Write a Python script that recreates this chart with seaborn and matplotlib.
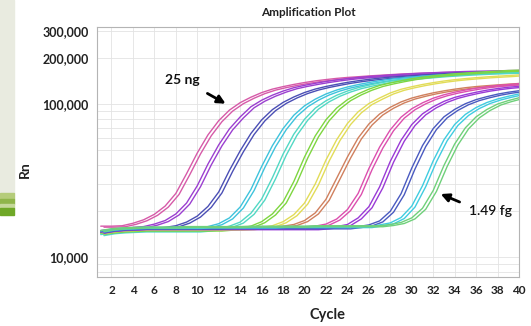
import numpy as np
import pandas as pd
import matplotlib
matplotlib.use("Agg")
import matplotlib.pyplot as plt
import seaborn as sns
from matplotlib.patches import Rectangle
from matplotlib.ticker import LogLocator, NullFormatter

# qPCR amplification curves, 4-fold dilution series (25 ng -> 1.49 fg)
# Rn values in thousands for cycles 1..40
cycles = np.arange(1, 41)

samples = ["25 ng", "6.25 ng", "1.56 ng", "391 pg", "97.7 pg", "24.4 pg", "6.10 pg",
           "1.53 pg", "381 fg", "95.4 fg", "23.8 fg", "5.96 fg", "1.49 fg"]

rn_25ng = [15.9, 15.9, 16.0, 16.6, 17.5, 19.0, 21.5, 26.0, 35.0, 47.8,
           62.8, 77.7, 91.1, 101.9, 110.6, 118.5, 124.9, 129.7, 134.0, 137.9,
           141.4, 144.2, 146.8, 148.9, 150.5, 152.3, 153.8, 155.3, 156.7, 157.9,
           158.8, 159.5, 160.4, 161.0, 161.6, 162.1, 162.6, 163.0, 163.3, 163.6]
rn_6ng = [14.9, 15.1, 15.3, 15.6, 15.8, 16.4, 17.3, 19.1, 22.5, 29.2,
          40.5, 54.0, 68.7, 82.2, 95.8, 105.7, 114.0, 121.3, 127.6, 132.2,
          136.3, 140.1, 143.5, 146.4, 148.9, 151.0, 152.7, 154.5, 155.9, 157.4,
          158.8, 159.9, 161.0, 161.9, 162.8, 163.4, 163.9, 164.5, 165.1, 165.4]
rn_1ng = [14.4, 14.8, 15.0, 15.1, 15.3, 15.4, 15.6, 16.0, 16.9, 18.5,
          21.4, 26.6, 36.8, 49.4, 64.1, 78.6, 91.7, 102.3, 111.0, 118.7,
          125.0, 130.0, 134.2, 138.3, 141.7, 144.7, 147.3, 149.6, 151.2, 152.9,
          154.6, 156.0, 157.5, 158.7, 159.6, 160.5, 161.4, 162.2, 162.6, 163.2]
rn_391pg = [14.2, 14.6, 14.8, 14.9, 15.0, 15.0, 15.0, 15.0, 15.2, 15.4,
            15.8, 16.5, 18.0, 21.2, 27.6, 39.0, 53.3, 69.0, 84.3, 97.2,
            107.4, 116.1, 123.2, 129.0, 133.7, 138.0, 141.6, 145.0, 147.5, 149.8,
            151.8, 153.6, 155.1, 156.7, 158.0, 159.4, 160.3, 161.2, 162.0, 162.7]
rn_98pg = [14.0, 14.4, 14.6, 14.7, 14.8, 14.8, 14.8, 14.8, 14.8, 14.8,
           15.0, 15.3, 15.9, 16.9, 19.3, 23.9, 32.9, 47.0, 63.4, 79.4,
           93.8, 104.8, 113.9, 121.4, 127.7, 132.6, 137.0, 140.9, 144.1, 146.9,
           148.9, 151.0, 153.0, 154.5, 156.1, 157.5, 158.6, 159.5, 160.5, 161.1]
rn_24pg = [14.3, 14.6, 14.8, 14.9, 15.0, 15.0, 15.0, 15.0, 15.0, 15.0,
           15.0, 15.0, 15.2, 15.4, 15.9, 17.0, 19.1, 22.9, 31.1, 45.0,
           61.8, 78.8, 94.0, 106.6, 116.3, 124.8, 131.9, 137.1, 141.7, 146.0,
           149.5, 152.6, 155.0, 157.2, 159.1, 160.8, 162.4, 163.8, 165.3, 166.2]
rn_6pg = [14.4, 14.8, 15.0, 15.1, 15.2, 15.2, 15.2, 15.2, 15.2, 15.2,
          15.2, 15.2, 15.2, 15.2, 15.3, 15.6, 16.0, 17.0, 18.9, 22.5,
          30.0, 43.0, 58.4, 74.5, 88.8, 100.6, 109.3, 117.9, 124.6, 129.5,
          133.9, 137.7, 141.1, 144.0, 146.3, 148.3, 150.2, 151.7, 153.1, 154.8]
rn_1pg = [14.6, 15.0, 15.2, 15.3, 15.4, 15.4, 15.4, 15.4, 15.4, 15.4,
          15.5, 15.5, 15.5, 15.5, 15.5, 15.5, 15.6, 15.9, 16.3, 17.3,
          19.4, 23.8, 32.7, 45.0, 59.9, 73.9, 85.9, 95.1, 103.0, 109.2,
          113.9, 118.1, 121.7, 124.8, 127.6, 129.8, 131.5, 133.1, 134.6, 136.0]
rn_381fg = [14.7, 15.0, 15.2, 15.3, 15.4, 15.4, 15.4, 15.4, 15.4, 15.4,
            15.4, 15.5, 15.5, 15.5, 15.5, 15.5, 15.5, 15.5, 15.5, 15.7,
            15.9, 16.4, 17.7, 20.4, 26.0, 37.8, 52.2, 67.8, 81.9, 93.0,
            101.6, 109.0, 114.7, 119.3, 123.2, 126.7, 129.7, 132.1, 133.8, 135.6]
rn_95fg = [14.5, 14.9, 15.1, 15.2, 15.3, 15.3, 15.3, 15.3, 15.3, 15.3,
           15.3, 15.3, 15.3, 15.3, 15.3, 15.3, 15.3, 15.3, 15.3, 15.3,
           15.3, 15.5, 15.8, 16.3, 18.0, 21.3, 28.7, 42.2, 57.9, 73.3,
           86.1, 95.8, 103.9, 110.3, 115.0, 119.2, 123.0, 126.0, 128.5, 130.2]
rn_24fg = [14.6, 15.0, 15.2, 15.3, 15.4, 15.4, 15.4, 15.4, 15.4, 15.4,
           15.4, 15.4, 15.5, 15.5, 15.5, 15.5, 15.5, 15.5, 15.5, 15.5,
           15.5, 15.5, 15.5, 15.5, 15.8, 16.2, 17.2, 19.9, 25.9, 38.1,
           53.4, 69.0, 82.3, 92.1, 100.3, 106.7, 111.5, 115.8, 119.2, 121.9]
rn_6fg = [14.8, 15.2, 15.4, 15.5, 15.6, 15.6, 15.6, 15.6, 15.6, 15.6,
          15.7, 15.7, 15.7, 15.7, 15.7, 15.7, 15.7, 15.8, 15.8, 15.8,
          15.8, 15.8, 15.8, 15.8, 15.8, 15.8, 16.2, 16.7, 18.1, 21.5,
          29.2, 42.5, 58.3, 73.4, 85.4, 94.7, 102.1, 107.7, 112.2, 116.2]
rn_1fg = [14.9, 15.3, 15.5, 15.6, 15.7, 15.7, 15.7, 15.7, 15.8, 15.8,
          15.8, 15.8, 15.8, 15.8, 15.9, 15.9, 15.9, 15.9, 15.9, 15.9,
          16.0, 16.0, 16.0, 16.0, 16.0, 16.0, 16.0, 16.3, 16.8, 18.0,
          20.8, 27.2, 39.6, 54.7, 69.8, 82.3, 91.9, 99.8, 105.1, 109.7]

curves = [rn_25ng, rn_6ng, rn_1ng, rn_391pg, rn_98pg, rn_24pg, rn_6pg,
          rn_1pg, rn_381fg, rn_95fg, rn_24fg, rn_6fg, rn_1fg]

# replicate wells: small Ct offset and Rn ratio between duplicates
rep_ct_shift = [0.0, 0.3]
rep_rn_ratio = [1.0, 0.985]

colors = ["#d65aa8", "#9b3fd0", "#4b4fb5", "#3ec3dc", "#52d8c4", "#7ed640", "#e2dc58",
          "#d0805e", "#dc4fae", "#9a3ad6", "#4a5ac0", "#40cce0", "#6fd07a"]

x_ticks = [2, 4, 6, 8, 10, 12, 14, 16, 18, 20, 22, 24, 26, 28, 30, 32, 34, 36, 38, 40]
y_ticks = [10000, 100000, 200000, 300000]
y_tick_labels = ["10,000", "100,000", "200,000", "300,000"]

rows = []
for name, vals in zip(samples, curves):
    for r, (shift, ratio) in enumerate(zip(rep_ct_shift, rep_rn_ratio)):
        for c, v in zip(cycles, vals):
            rows.append((name, f"{name} #{r + 1}", c + shift, v * 1000 * ratio))
df = pd.DataFrame(rows, columns=["sample", "well", "cycle", "rn"])

sns.set_style("white")
plt.rcParams["font.family"] = ["Lato", "DejaVu Sans"]

fig = plt.figure(figsize=(5.31, 3.26), dpi=100)
ax = fig.add_axes([97 / 531, 1 - 277 / 326, 422 / 531, 250 / 326])

sns.lineplot(data=df, x="cycle", y="rn", hue="sample", hue_order=samples, units="well",
             estimator=None, palette=colors, legend=False, lw=1.0, ax=ax)

ax.set_yscale("log")
ax.set_xlim(0.65, 40)
ax.set_ylim(7400, 318000)
ax.set_xticks(x_ticks)
ax.set_yticks(y_ticks)
ax.set_yticklabels(y_tick_labels)
ax.yaxis.set_minor_locator(LogLocator(base=10, subs=np.arange(2, 10)))
ax.yaxis.set_minor_formatter(NullFormatter())
ax.tick_params(which="minor", length=0)
ax.tick_params(which="major", length=3, width=0.6, color="#a0a0a0",
               labelcolor="#222222", pad=3)
ax.tick_params(axis="x", labelsize=8.5)
ax.tick_params(axis="y", labelsize=9)
plt.setp(ax.get_xticklabels() + ax.get_yticklabels(), fontweight="bold")
ax.grid(True, which="both", color="#e3e3e3", lw=0.6)
ax.set_axisbelow(True)
for sp in ax.spines.values():
    sp.set_color("#b4b4b4")
    sp.set_linewidth(0.8)
ax.set_xlabel("")
ax.set_ylabel("")

# annotations
ax.annotate("", xy=(12.87, 98300), xytext=(10.72, 119500),
            arrowprops=dict(arrowstyle="-|>", color="black", lw=2.0, mutation_scale=12))
ax.text(8.58, 143300, "25 ng", ha="center", va="center", fontsize=10, fontweight="bold",
        color="#111111")
ax.annotate("", xy=(32.46, 26200), xytext=(34.70, 22500),
            arrowprops=dict(arrowstyle="-|>", color="black", lw=2.0, mutation_scale=12))
ax.text(37.31, 19970, "1.49 fg", ha="center", va="center", fontsize=10, fontweight=600,
        color="#111111")

fig.text(308 / 531, 1 - 13 / 326, "Amplification Plot", ha="center", va="center",
         fontsize=8.5, fontweight="bold", color="#222222")
fig.text(327 / 531, 1 - 315 / 326, "Cycle", ha="center", va="center",
         fontsize=10.5, fontweight="bold", color="#222222")
fig.text(25 / 531, 1 - 170 / 326, "Rn", ha="center", va="center", rotation=90,
         fontsize=10, fontweight="bold", color="#222222")

# slide edge decoration on the left
fig.patches.append(Rectangle((0, 1 - 193 / 326), 14 / 531, 193 / 326,
                             transform=fig.transFigure, color="#e9ebe0", zorder=0))
for y0, y1, col in [(193, 199, "#b5cc7a"), (199, 204, "#8fb54a"),
                    (204, 208, "#c5d89a"), (208, 215, "#6fa827")]:
    fig.patches.append(Rectangle((0, 1 - y1 / 326), 14 / 531, (y1 - y0) / 326,
                                 transform=fig.transFigure, color=col, zorder=0))

fig.savefig("out.png", dpi=100)
